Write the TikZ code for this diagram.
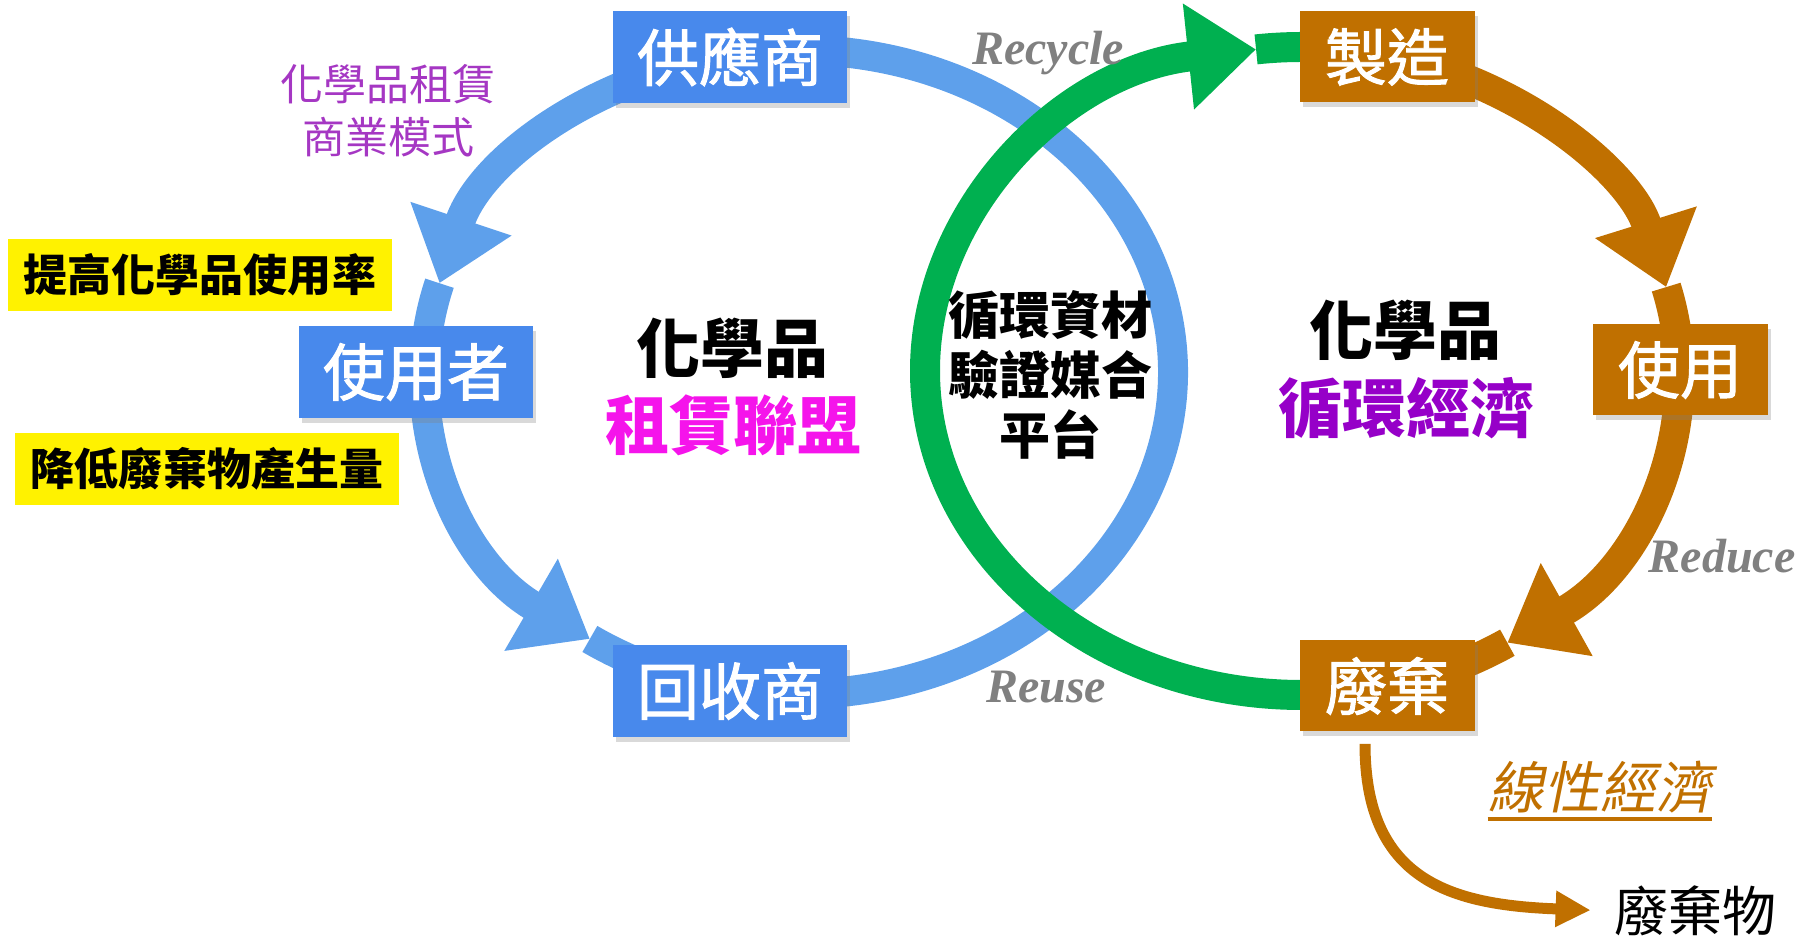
\documentclass[tikz,border=0pt]{standalone}
\usepackage{fontspec}
\setmainfont{Noto Sans CJK TC}
\newfontfamily\slantcjk{Noto Sans CJK TC}[FakeSlant=0.2]
\newfontfamily\stagecjk{Noto Sans CJK TC}[FakeBold=1.6]
\newfontfamily\tagfont{Liberation Serif}
\usetikzlibrary{arrows.meta,calc,shadows,positioning}

\definecolor{boxblue}{RGB}{72,137,236}
\definecolor{ringblue}{RGB}{94,160,235}
\definecolor{ringgreen}{RGB}{0,176,80}
\definecolor{ringbrown}{RGB}{192,112,0}
\definecolor{leasepurple}{RGB}{165,55,195}
\definecolor{alliancepink}{RGB}{245,20,235}
\definecolor{circpurple}{RGB}{150,0,200}
\definecolor{taggray}{RGB}{128,128,128}

\tikzset{
  ring/.style={line width=15pt},
  bighead/.style={-{Triangle[width=51pt,length=34pt]}},
  stage/.style={text=white, font=\stagecjk\fontsize{31}{37}\selectfont, inner sep=0pt,
    drop shadow={shadow xshift=1.5pt,shadow yshift=-2.5pt,opacity=0.3}},
  bluestage/.style={stage, fill=boxblue, minimum width=117pt, minimum height=46pt},
  brownstage/.style={stage, fill=ringbrown, minimum width=87.5pt, minimum height=45.5pt},
  goal/.style={fill=yellow, font=\bfseries\fontsize{22}{26}\selectfont,
    minimum width=192pt, minimum height=36pt, inner sep=0pt},
  bigtitle/.style={font=\bfseries\fontsize{32}{38}\selectfont, inner sep=0pt},
  rlabel/.style={text=taggray, font=\tagfont\bfseries\itshape\fontsize{24}{28}\selectfont,
    inner sep=0pt, anchor=base},
}

\begin{document}
\begin{tikzpicture}[x=0.5pt, y=0.5pt]
\useasboundingbox (0,0) rectangle (1798,936);
\coordinate (bc) at (799,564);
\coordinate (gc) at (1302,565);

% lease loop
\foreach \a/\b in {95/164,164/236}
  \draw[ring, ringblue, bighead] ($(bc)+(\a:374 and 322)$)
    arc[start angle=\a, end angle=\b, x radius=374, y radius=322];
\draw[ring, ringblue] ($(bc)+(236:374 and 322)$)
  arc[start angle=236, end angle=455, x radius=374, y radius=322];

% recycle loop
\draw[ring, ringgreen, bighead] ($(gc)+(272:377 and 324)$)
  arc[start angle=272, end angle=97, x radius=377, y radius=324];
\draw[ring, ringgreen] ($(gc)+(97:377 and 324)$)
  arc[start angle=97, end angle=88, x radius=377, y radius=324];
\foreach \a/\b in {75/15,15/-57}
  \draw[ring, ringbrown, bighead] ($(gc)+(\a:377 and 324)$)
    arc[start angle=\a, end angle=\b, x radius=377, y radius=324];
\draw[ring, ringbrown] ($(gc)+(-57:377 and 324)$)
  arc[start angle=-57, end angle=-75, x radius=377, y radius=324];

\node[bluestage] (supplier) at (730,879) {供應商};
\node[bluestage] (user) at (416,564) {使用者};
\node[bluestage] (recycler) at (730,245) {回收商};
\node[brownstage] (make) at (1387,879) {製造};
\node[brownstage] (usage) at (1680,566) {使用};
\node[brownstage] (waste) at (1387,250) {廢棄};

\node[text=leasepurple, align=center, font=\fontsize{21.5}{26.5}\selectfont] (model) at (388,825) {化學品租賃\\商業模式};
\node[goal] (raise) at (200,661) {提高化學品使用率};
\node[goal] (cut) at (207,467) {降低廢棄物產生量};

\node[bigtitle] (chemA) at (732,588) {化學品};
\node[bigtitle, text=alliancepink] (alliance) at (733,511) {租賃聯盟};
\node[align=center, font=\bfseries\fontsize{25.5}{30}\selectfont] (platform) at (1050,561) {循環資材\\驗證媒合\\平台};
\node[bigtitle] (chemB) at (1405,606) {化學品};
\node[bigtitle, text=circpurple] (circular) at (1406,528) {循環經濟};

\node[rlabel] (recycle) at (1048,871) {Recycle};
\node[rlabel] (reuse) at (1046,233) {Reuse};
\node[rlabel] (reduce) at (1722,363) {Reduce};

% linear path
\node[text=ringbrown, font=\slantcjk\fontsize{28}{34}\selectfont, inner sep=0pt] (linear) at (1600,149) {線性經濟};
\draw[ringbrown, line width=2pt] ([yshift=-3pt]linear.south west) -- ([yshift=-3pt]linear.south east);
\node[font=\fontsize{27}{32}\selectfont, inner sep=0pt] (discard) at (1695,25) {廢棄物};
\draw[ringbrown, line width=5.5pt, -{Triangle[width=17pt,length=17.5pt]}, shorten <=6pt, shorten >=11.5pt]
  ([xshift=-11pt]waste.south) .. controls +(0,-148) and +(-164,6) .. (discard.west);
\end{tikzpicture}
\end{document}
